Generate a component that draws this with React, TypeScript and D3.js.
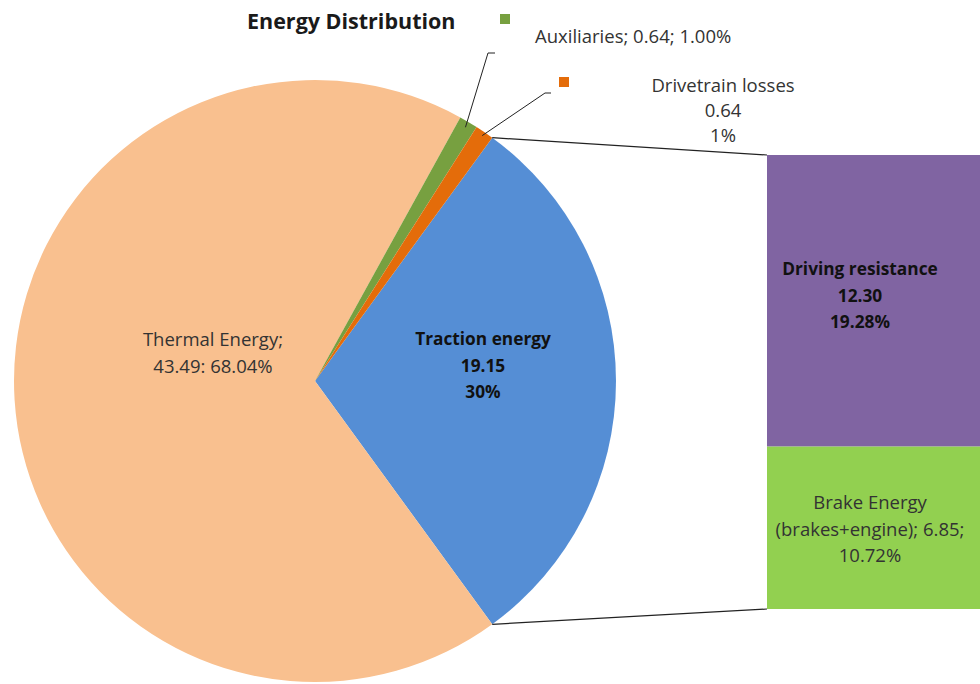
import React from "react";
import * as d3 from "d3";

const pieCategories = ["Traction energy", "Thermal Energy", "Auxiliaries", "Drivetrain losses"];
const pieValues = [19.15, 43.49, 0.64, 0.64];
const piePercents = ["30%", "68.04%", "1.00%", "1%"];
const pieColors = ["#558ED5", "#F9C08F", "#77A040", "#E46C0A"];

const barCategories = ["Driving resistance", "Brake Energy (brakes+engine)"];
const barValues = [12.30, 6.85];
const barPercents = ["19.28%", "10.72%"];
const barColors = ["#8064A2", "#92D050"];

const FONT = "'Open Sans', sans-serif";

export default function App() {
  const W = 980, H = 684;
  const cx = 315, cy = 381, r = 301;
  const total = d3.sum(pieValues);
  const tracSpan = (pieValues[0] / total) * Math.PI * 2;
  const start = Math.PI / 2 - tracSpan / 2;
  const pie = d3.pie<number>().sort(null).startAngle(start).endAngle(start + Math.PI * 2);
  const arcs = pie(pieValues);
  const arcGen = d3.arc<d3.PieArcDatum<number>>().innerRadius(0).outerRadius(r);
  const pt = (a: number, rr: number) => [cx + rr * Math.sin(a), cy - rr * Math.cos(a)];

  const barX0 = 767, barX1 = 980;
  const y = d3.scaleLinear().domain([0, d3.sum(barValues)]).range([155, 609]);
  const barStack = [0, barValues[0], barValues[0] + barValues[1]];

  const tA = arcs[0];
  const p0 = pt(tA.startAngle, r);
  const p1 = pt(tA.endAngle, r);

  const auxMid = (arcs[2].startAngle + arcs[2].endAngle) / 2;
  const drvMid = (arcs[3].startAngle + arcs[3].endAngle) / 2;
  const auxP = pt(auxMid, r - 6);
  const drvP = pt(drvMid, r - 4);

  const fs = 18.5;
  const fb = 17.3;
  const lh = 26.5;

  return (
    <svg width={W} height={H} style={{ position: "fixed", left: 0, top: 0, background: "#fff" }} fontFamily={FONT}>
      <text x={247} y={29} fontSize={21.5} fontWeight="bold" fill="#1a1a1a">Energy Distribution</text>
      <g transform={`translate(${cx},${cy})`}>
        {arcs.map((a, i) => (
          <path key={i} d={arcGen(a) || ""} fill={pieColors[i]} />
        ))}
      </g>
      {/* connector lines */}
      <line x1={p0[0]} y1={p0[1]} x2={barX0} y2={y(0)} stroke="#222" strokeWidth={1.2} />
      <line x1={p1[0]} y1={p1[1]} x2={barX0} y2={y(barStack[2])} stroke="#222" strokeWidth={1.2} />
      {/* bar */}
      {barValues.map((v, i) => (
        <rect key={i} x={barX0} width={barX1 - barX0} y={y(barStack[i])} height={y(barStack[i + 1]) - y(barStack[i])} fill={barColors[i]} />
      ))}
      {/* leader lines */}
      <polyline points={`${auxP[0]},${auxP[1]} 488,53 495,53`} fill="none" stroke="#222" strokeWidth={1} />
      <polyline points={`${drvP[0]},${drvP[1]} 545,93 551,93`} fill="none" stroke="#222" strokeWidth={1} />
      {/* legend markers */}
      <rect x={500} y={14} width={10} height={10} fill={pieColors[2]} />
      <rect x={559} y={77} width={10} height={10} fill={pieColors[3]} />
      <text x={535} y={43} fontSize={fs} fill="#333">{`${pieCategories[2]}; ${pieValues[2].toFixed(2)}; ${piePercents[2]}`}</text>
      <text x={723} y={92} fontSize={fs} fill="#333" textAnchor="middle">
        <tspan x={723}>{pieCategories[3]}</tspan>
        <tspan x={723} dy={25}>{pieValues[3].toFixed(2)}</tspan>
        <tspan x={723} dy={25}>{piePercents[3]}</tspan>
      </text>
      {/* thermal label */}
      <text x={213} y={346} fontSize={fs} fill="#333" textAnchor="middle">
        <tspan x={213}>{pieCategories[1]};</tspan>
        <tspan x={213} dy={lh}>{`${pieValues[1].toFixed(2)}: ${piePercents[1]}`}</tspan>
      </text>
      {/* traction label */}
      <text x={483} y={345} fontSize={fb} fontWeight="bold" fill="#111" textAnchor="middle">
        <tspan x={483}>{pieCategories[0]}</tspan>
        <tspan x={483} dy={lh}>{pieValues[0].toFixed(2)}</tspan>
        <tspan x={483} dy={lh}>{piePercents[0]}</tspan>
      </text>
      {/* bar labels */}
      <text x={860} y={275} fontSize={fb} fontWeight="bold" fill="#111" textAnchor="middle">
        <tspan x={860}>{barCategories[0]}</tspan>
        <tspan x={860} dy={lh}>{barValues[0].toFixed(2)}</tspan>
        <tspan x={860} dy={lh}>{barPercents[0]}</tspan>
      </text>
      <text x={870} y={509} fontSize={fs} fill="#333" textAnchor="middle">
        <tspan x={870}>Brake Energy</tspan>
        <tspan x={870} dy={lh}>{`(brakes+engine); ${barValues[1].toFixed(2)};`}</tspan>
        <tspan x={870} dy={lh}>{barPercents[1]}</tspan>
      </text>
    </svg>
  );
}
